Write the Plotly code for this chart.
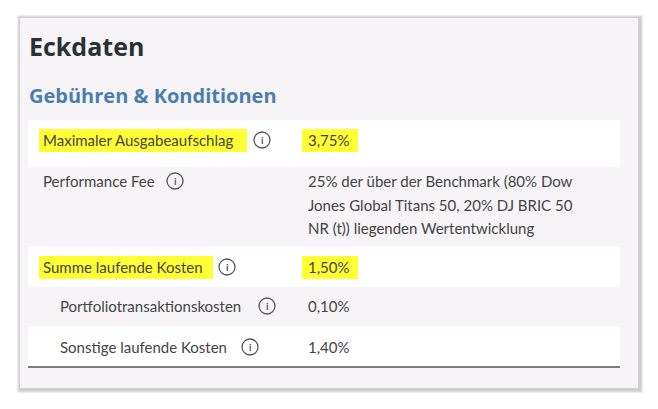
import plotly.graph_objects as go

# table content
labels = ["Maximaler Ausgabeaufschlag", "Performance Fee", "Summe laufende Kosten",
          "Portfoliotransaktionskosten", "Sonstige laufende Kosten"]
values = ["3,75%",
          "25% der über der Benchmark (80% Dow<br>Jones Global Titans 50, 20% DJ BRIC 50<br>NR (t)) liegenden Wertentwicklung",
          "1,50%", "0,10%", "1,40%"]
highlight = [True, False, True, False, False]
indented = [False, False, False, True, True]

# layout helpers (pixels)
row_top = [120, 167, 247, 287, 327]
row_bot = [167, 247, 287, 327, 367]
text_y = [140, 181, 267, 306, 347]
icon_x = [262, 175, 227, 267, 250]
label_end = [247, 0, 213, 0, 0]

W, H = 658, 409
off = 8  # page body margin
fig = go.Figure()
shapes = []
ann = []

# card shadow + card
for i, c in enumerate(["#ececec", "#dcdcdc", "#cfcfcf"]):
    d = 3 - i
    shapes.append(dict(type="rect", x0=20 - d, y0=18 - d, x1=638 + d + 2, y1=388 + d + 2,
                       line_width=0, fillcolor=c, layer="below"))
shapes.append(dict(type="rect", x0=20, y0=18, x1=638, y1=388, line_width=0,
                   fillcolor="#f6f4f7", layer="below"))

ann.append(dict(x=27, y=46, text="<b>Eckdaten</b>", showarrow=False, xanchor="left", yanchor="middle",
                font=dict(family="Open Sans", size=25, color="#2b2f36")))
ann.append(dict(x=27, y=95, text="<b>Gebühren & Konditionen</b>", showarrow=False, xanchor="left",
                yanchor="middle", font=dict(family="Open Sans", size=20, color="#4a7eb0")))

font = dict(family="Lato", size=15, color="#444444")
for i, lab in enumerate(labels):
    if i % 2 == 0:
        shapes.append(dict(type="rect", x0=28, x1=620, y0=row_top[i], y1=row_bot[i],
                           line_width=0, fillcolor="#ffffff", layer="below"))
    lx = 58 if indented[i] else 41
    if highlight[i]:
        shapes.append(dict(type="rect", x0=lx - 2, x1=label_end[i], y0=text_y[i] - 11,
                           y1=text_y[i] + 12, line_width=0, fillcolor="#ffff33", layer="below"))
        shapes.append(dict(type="rect", x0=302, x1=358, y0=text_y[i] - 11,
                           y1=text_y[i] + 12, line_width=0, fillcolor="#ffff33", layer="below"))
    ann.append(dict(x=lx, y=text_y[i], text=lab, showarrow=False, xanchor="left",
                    yanchor="middle", font=font))
    shapes.append(dict(type="circle", x0=icon_x[i] - 8, x1=icon_x[i] + 8,
                       y0=text_y[i] - 8, y1=text_y[i] + 8, line=dict(color="#555", width=1.3)))
    ann.append(dict(x=icon_x[i], y=text_y[i], text="<b>i</b>", showarrow=False,
                    font=dict(family="Lato", size=10, color="#555")))
    for j, line in enumerate(values[i].split("<br>")):
        ann.append(dict(x=306, y=text_y[i] + 23.5 * j, text=line, showarrow=False,
                        xanchor="left", yanchor="middle", font=font))

shapes.append(dict(type="line", x0=28, x1=620, y0=367, y1=367, line=dict(color="#555", width=1.3)))

fig.update_layout(width=W, height=H, margin=dict(l=0, r=0, t=0, b=0),
                  paper_bgcolor="white", plot_bgcolor="white",
                  xaxis=dict(range=[off, W + off], visible=False, fixedrange=True),
                  yaxis=dict(range=[H + off, off], visible=False, fixedrange=True),
                  shapes=shapes, annotations=ann, showlegend=False)
fig.write_html("out.html", config={"displayModeBar": False})
